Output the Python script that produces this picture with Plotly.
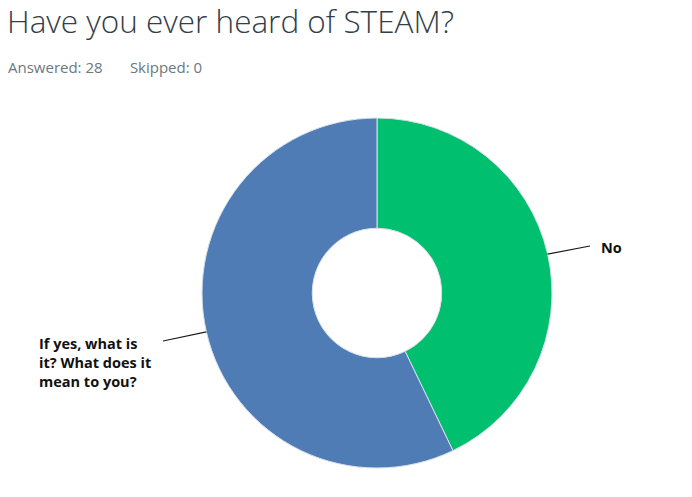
import math
import plotly.graph_objects as go

labels = ["No", "If yes, what is<br>it? What does it<br>mean to you?"]
values = [12, 16]
colors = ["#00bf6f", "#507cb6"]
title_text = "Have you ever heard of STEAM?"
answered = 28
skipped = 0

W, H = 692, 497
# pie domain in pixels
px0, px1, py0, py1 = 202, 552, 118, 468
cx, cy = (px0 + px1) / 2, (py0 + py1) / 2
R = (px1 - px0) / 2

def to_paper(x, y):
    return x / W, 1 - y / H

fig = go.Figure(go.Pie(
    labels=labels, values=values, sort=False, direction="clockwise", rotation=0,
    hole=0.37, textinfo="none", hoverinfo="label+value+percent",
    marker=dict(colors=colors, line=dict(color="#d9e0ea", width=1)),
    domain=dict(x=[px0 / W, px1 / W], y=[1 - py1 / H, 1 - py0 / H]),
    showlegend=False,
))

# leader lines and labels positioned from slice mid-angles
total = sum(values)
cum = 0
label_specs = [
    dict(end=(590, 246), text_xy=(599, 247), xanchor="left", align="left"),
    dict(end=(163, 341), text_xy=(37, 362), xanchor="left", align="left"),
]
shapes = []
annotations = []
for v, lab, spec in zip(values, labels, label_specs):
    mid = (cum + v / 2) / total * 2 * math.pi
    cum += v
    ex, ey = cx + R * math.sin(mid), cy - R * math.cos(mid)
    x0, y0 = to_paper(ex, ey)
    x1, y1 = to_paper(*spec["end"])
    shapes.append(dict(type="line", xref="paper", yref="paper", x0=x0, y0=y0, x1=x1, y1=y1,
                       line=dict(color="#1a1a1a", width=1.2)))
    tx, ty = to_paper(*spec["text_xy"])
    annotations.append(dict(text=lab, x=tx, y=ty, xref="paper", yref="paper", showarrow=False,
                            xanchor=spec["xanchor"], yanchor="middle", align=spec["align"],
                            font=dict(family="Open Sans", size=14.5, color="#111111", weight="bold")))

tx, ty = to_paper(5, 21)
annotations.append(dict(text=title_text, x=tx, y=ty, xref="paper", yref="paper", showarrow=False,
                        xanchor="left", yanchor="middle",
                        font=dict(family="Open Sans", size=31.5, color="#333e48", weight=300)))
sx, sy = to_paper(6, 67)
annotations.append(dict(text=f"Answered: {answered}&nbsp;&nbsp;&nbsp;&nbsp;&nbsp;&nbsp;&nbsp;Skipped: {skipped}",
                        x=sx, y=sy, xref="paper", yref="paper", showarrow=False,
                        xanchor="left", yanchor="middle",
                        font=dict(family="Open Sans", size=15, color="#6b787f")))

fig.update_layout(width=W, height=H, margin=dict(l=0, r=0, t=0, b=0),
                  paper_bgcolor="white", plot_bgcolor="white",
                  shapes=shapes, annotations=annotations)
fig.write_html("out.html")
